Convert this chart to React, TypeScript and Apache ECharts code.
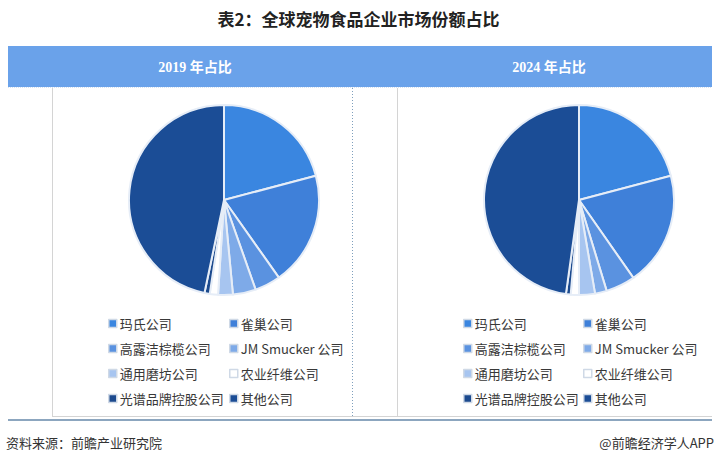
import React, { useEffect, useRef } from "react";
import * as echarts from "echarts";

const companies = ["玛氏公司", "雀巢公司", "高露洁棕榄公司", "JM Smucker 公司", "通用磨坊公司", "农业纤维公司", "光谱品牌控股公司", "其他公司"];
const share2019 = [20.9, 19.3, 4.4, 3.9, 2.5, 1.4, 0.9, 46.7];
const share2024 = [20.9, 19.4, 5.0, 2.0, 2.7, 1.4, 0.8, 47.8];
const colors = ["#3a86e0", "#3f80d9", "#5a92e0", "#7eaae8", "#a7c5f0", "#ffffff", "#1c4a8e", "#1b4d96"];
const legendCol1 = [companies[0], companies[2], companies[4], companies[6]];
const legendCol2 = [companies[1], companies[3], companies[5], companies[7]];
const panelTitles = ["2019 年占比", "2024 年占比"];
const title = "表2：全球宠物食品企业市场份额占比";
const source = "资料来源：前瞻产业研究院";
const credit = "@前瞻经济学人APP";

const FONT = "'Noto Sans CJK SC', 'Noto Sans', sans-serif";

export default function App() {
  const ref = useRef<HTMLDivElement>(null);
  useEffect(() => {
    if (!ref.current) return;
    const chart = echarts.init(ref.current, null, { renderer: "svg" });
    const mk = (vals: number[]) =>
      companies.map((n, i) => ({ name: n, value: vals[i], itemStyle: { color: colors[i] } }));
    const legendBase = {
      orient: "vertical" as const,
      icon: "rect",
      itemWidth: 8,
      itemHeight: 8,
      itemGap: 10,
      selectedMode: false,
      itemStyle: { borderColor: "#cfd9e6", borderWidth: 1.5 },
      textStyle: { fontFamily: FONT, fontSize: 13, color: "#383838", lineHeight: 15, padding: [0, 0, 0, -2] },
      padding: 0,
    };
    const line = (x1: number, y1: number, x2: number, y2: number, stroke: string, lineWidth = 1, lineDash?: number[]) => ({
      type: "line",
      shape: { x1, y1, x2, y2 },
      style: { stroke, lineWidth, lineDash },
      silent: true,
    });
    chart.setOption({
      animation: false,
      backgroundColor: "#ffffff",
      legend: [
        { ...legendBase, data: legendCol1, left: 108, top: 316 },
        { ...legendBase, data: legendCol2, left: 229, top: 316 },
        { ...legendBase, data: legendCol1, left: 463, top: 316 },
        { ...legendBase, data: legendCol2, left: 583, top: 316 },
      ],
      graphic: [
        {
          type: "text",
          left: "center",
          top: 10,
          style: { text: title, font: `bold 17px ${FONT}`, fill: "#222" },
        },
        { type: "rect", shape: { x: 8, y: 46, width: 704, height: 41 }, style: { fill: "#6aa2ea" }, silent: true },
        line(8, 87.5, 712, 87.5, "#d5e2f2", 1, [1, 1]),
        {
          type: "text",
          x: 195,
          y: 67,
          style: { text: panelTitles[0], font: `bold 14px 'Liberation Serif', ${FONT}`, fill: "#ffffff", align: "center", verticalAlign: "middle" },
        },
        {
          type: "text",
          x: 549,
          y: 67,
          style: { text: panelTitles[1], font: `bold 14px 'Liberation Serif', ${FONT}`, fill: "#ffffff", align: "center", verticalAlign: "middle" },
        },
        line(52.5, 88, 52.5, 417, "#d4d4d4"),
        line(352.5, 88, 352.5, 417, "#7f9fbd", 1, [1, 2]),
        line(397.5, 88, 397.5, 417, "#d4d4d4"),
        line(52, 416.5, 712, 416.5, "#d4d4d4"),
        line(8, 420, 712, 420, "#8ca6bf", 2),
        {
          type: "text",
          x: 6,
          y: 442,
          style: { text: source, font: `13px ${FONT}`, fill: "#333", verticalAlign: "middle" },
        },
        {
          type: "text",
          x: 714,
          y: 442,
          style: { text: credit, font: `13px ${FONT}`, fill: "#333", align: "right", verticalAlign: "middle" },
        },
      ],
      series: [
        {
          type: "pie",
          center: [224, 200],
          radius: 95,
          startAngle: 90,
          clockwise: true,
          label: { show: false },
          labelLine: { show: false },
          itemStyle: { borderColor: "#e6edf7", borderWidth: 2 },
          emphasis: { disabled: true },
          data: mk(share2019),
        },
        {
          type: "pie",
          center: [579, 200],
          radius: 95,
          startAngle: 90,
          clockwise: true,
          label: { show: false },
          labelLine: { show: false },
          itemStyle: { borderColor: "#e6edf7", borderWidth: 2 },
          emphasis: { disabled: true },
          data: mk(share2024),
        },
      ],
    });
    return () => chart.dispose();
  }, []);
  return <div ref={ref} style={{ width: 717, height: 465, position: "absolute", left: 0, top: 0 }} />;
}
